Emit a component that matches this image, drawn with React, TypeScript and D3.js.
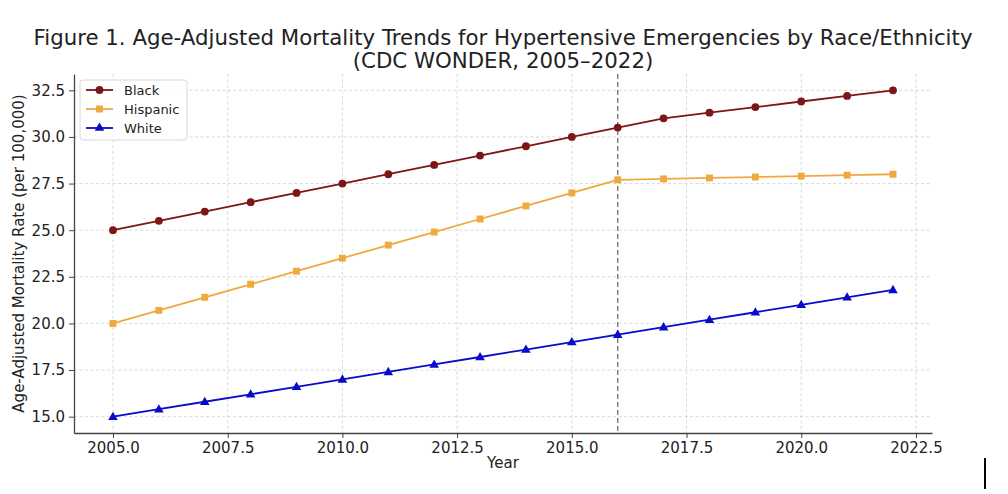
import React, { useEffect, useRef } from 'react';
import * as d3 from 'd3';

const years = [2005, 2006, 2007, 2008, 2009, 2010, 2011, 2012, 2013, 2014, 2015, 2016, 2017, 2018, 2019, 2020, 2021, 2022];
const black = [25, 25.5, 26, 26.5, 27, 27.5, 28, 28.5, 29, 29.5, 30, 30.5, 31, 31.3, 31.6, 31.9, 32.2, 32.5];
const hispanic = [20, 20.7, 21.4, 22.1, 22.8, 23.5, 24.2, 24.9, 25.6, 26.3, 27, 27.7, 27.75, 27.8, 27.85, 27.9, 27.95, 28];
const white = [15, 15.4, 15.8, 16.2, 16.6, 17, 17.4, 17.8, 18.2, 18.6, 19, 19.4, 19.8, 20.2, 20.6, 21, 21.4, 21.8];
const xTicks = [2005, 2007.5, 2010, 2012.5, 2015, 2017.5, 2020, 2022.5];
const yTicks = [15, 17.5, 20, 22.5, 25, 27.5, 30, 32.5];
const markerYear = 2016;

const series = [
  { name: 'Black', values: black, color: '#7d1616', shape: 'circle' },
  { name: 'Hispanic', values: hispanic, color: '#f0a93f', shape: 'square' },
  { name: 'White', values: white, color: '#0a0acb', shape: 'triangle' },
];

const W = 1008;
const H = 494;
const font = 'DejaVu Sans, sans-serif';

const App: React.FC = () => {
  const svgRef = useRef<SVGSVGElement>(null);

  useEffect(() => {
    if (!svgRef.current) return;
    const svg = d3.select(svgRef.current);
    svg.selectAll('*').remove();

    const left = 74, right = 932, top = 74, bottom = 433;
    const x = d3.scaleLinear().domain([2004.15, 2022.85]).range([left, right]);
    const y = d3.scaleLinear().domain([14.125, 33.375]).range([bottom, top]);

    svg.append('rect').attr('width', W).attr('height', H).attr('fill', '#fff');

    // grid
    const grid = svg.append('g');
    xTicks.forEach(t => {
      grid.append('line')
        .attr('x1', x(t)).attr('x2', x(t)).attr('y1', top).attr('y2', bottom)
        .attr('stroke', '#cfcfcf').attr('stroke-width', 0.8).attr('stroke-dasharray', '3,2.5');
    });
    yTicks.forEach(t => {
      grid.append('line')
        .attr('x1', left).attr('x2', right).attr('y1', y(t)).attr('y2', y(t))
        .attr('stroke', '#cfcfcf').attr('stroke-width', 0.8).attr('stroke-dasharray', '3,2.5');
    });

    // vertical reference line
    svg.append('line')
      .attr('x1', x(markerYear)).attr('x2', x(markerYear)).attr('y1', top).attr('y2', bottom)
      .attr('stroke', '#707070').attr('stroke-width', 1.3).attr('stroke-dasharray', '5,3');

    // axes
    const xAxis = svg.append('g').attr('transform', `translate(0,${bottom})`)
      .call(d3.axisBottom(x).tickValues(xTicks).tickFormat(d3.format('.1f')).tickSizeInner(5).tickSizeOuter(0).tickPadding(4));
    const yAxis = svg.append('g').attr('transform', `translate(${left},0)`)
      .call(d3.axisLeft(y).tickValues(yTicks).tickFormat(d3.format('.1f')).tickSizeInner(5).tickSizeOuter(0).tickPadding(4));
    [xAxis, yAxis].forEach(a => {
      a.select('.domain').attr('stroke', '#444').attr('stroke-width', 1.3);
      a.selectAll('.tick line').attr('stroke', '#444').attr('stroke-width', 1);
      a.selectAll('.tick text').attr('fill', '#222').attr('font-family', font).attr('font-size', 15);
    });

    const line = d3.line<number>()
      .x((_d, i) => x(years[i]))
      .y(d => y(d));

    const symbolOf = (shape: string) =>
      shape === 'circle' ? d3.symbolCircle : shape === 'square' ? d3.symbolSquare : d3.symbolTriangle;

    series.forEach(s => {
      svg.append('path')
        .datum(s.values)
        .attr('d', line)
        .attr('fill', 'none')
        .attr('stroke', s.color)
        .attr('stroke-width', 1.8);
      const sym = d3.symbol().type(symbolOf(s.shape)).size(s.shape === 'triangle' ? 40 : 48);
      svg.append('g').selectAll('path')
        .data(s.values)
        .enter()
        .append('path')
        .attr('d', sym)
        .attr('transform', (d, i) => `translate(${x(years[i])},${y(d) + (s.shape === 'triangle' ? 0.5 : 0)})`)
        .attr('fill', s.color);
    });

    // legend
    const lg = svg.append('g');
    lg.append('rect')
      .attr('x', 80).attr('y', 80).attr('width', 107).attr('height', 60).attr('rx', 3)
      .attr('fill', 'rgba(255,255,255,0.85)').attr('stroke', '#d8d8d8');
    series.forEach((s, i) => {
      const ly = 90 + i * 19;
      lg.append('line').attr('x1', 86).attr('x2', 113).attr('y1', ly).attr('y2', ly)
        .attr('stroke', s.color).attr('stroke-width', 1.8);
      lg.append('path')
        .attr('d', d3.symbol().type(symbolOf(s.shape)).size(s.shape === 'triangle' ? 40 : 48)())
        .attr('transform', `translate(99.5,${ly})`)
        .attr('fill', s.color);
      lg.append('text').attr('x', 124).attr('y', ly).attr('dy', '0.35em')
        .attr('font-family', font).attr('font-size', 13).attr('fill', '#222')
        .text(s.name);
    });

    // titles
    svg.append('text').attr('x', 503).attr('y', 45).attr('text-anchor', 'middle')
      .attr('font-family', font).attr('font-size', 21.3).attr('fill', '#222')
      .text('Figure 1. Age-Adjusted Mortality Trends for Hypertensive Emergencies by Race/Ethnicity');
    svg.append('text').attr('x', 503).attr('y', 68).attr('text-anchor', 'middle')
      .attr('font-family', font).attr('font-size', 21.3).attr('fill', '#222')
      .text('(CDC WONDER, 2005\u20132022)');

    svg.append('text').attr('x', (left + right) / 2).attr('y', 468).attr('text-anchor', 'middle')
      .attr('font-family', font).attr('font-size', 15).attr('fill', '#222')
      .text('Year');
    svg.append('text')
      .attr('transform', `translate(24,${(top + bottom) / 2}) rotate(-90)`)
      .attr('text-anchor', 'middle')
      .attr('font-family', font).attr('font-size', 15).attr('fill', '#222')
      .text('Age-Adjusted Mortality Rate (per 100,000)');

    // cursor artifact
    svg.append('rect').attr('x', 984).attr('y', 458).attr('width', 2).attr('height', 31).attr('fill', '#000');
  }, []);

  return (
    <svg ref={svgRef} width={W} height={H} style={{ display: 'block', position: 'absolute', left: 0, top: 0 }} />
  );
};

export default App;
